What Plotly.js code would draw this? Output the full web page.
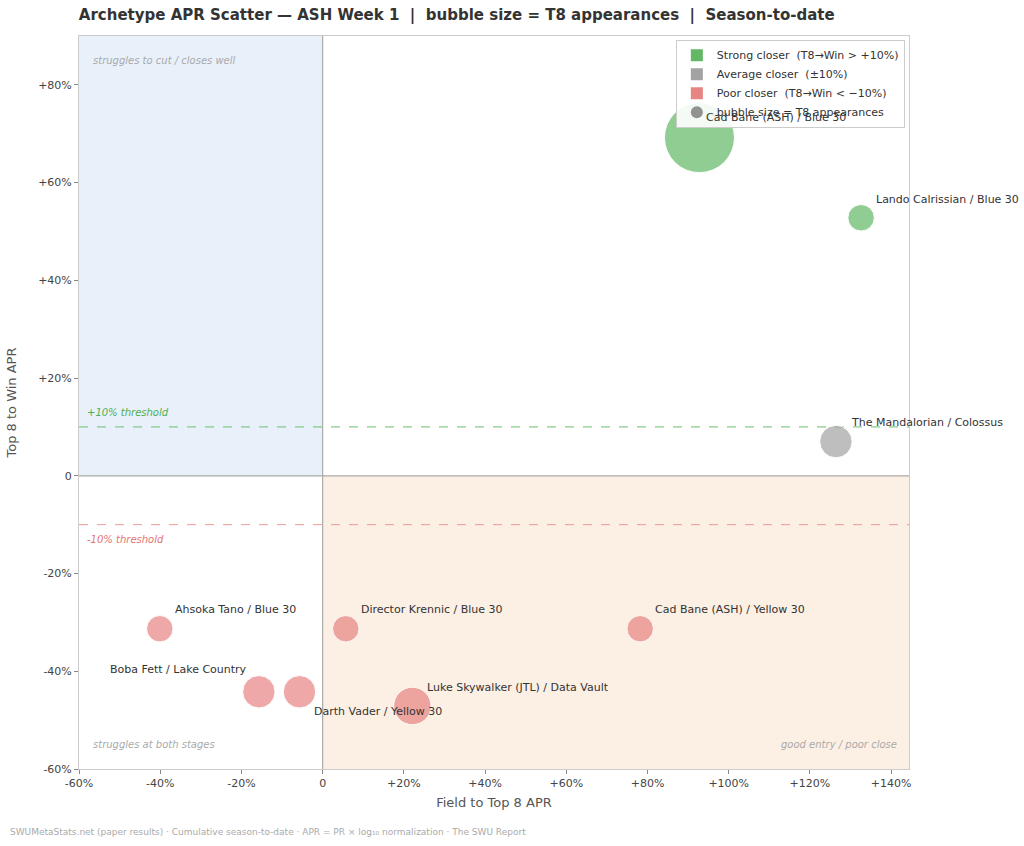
<!DOCTYPE html>
<html><head><meta charset="utf-8">
<script src="https://cdn.plot.ly/plotly-3.0.1.min.js"></script>
<style>body{margin:0;background:#fff}#chart{width:1024px;height:846px}</style>
</head><body><div id="chart"></div>
<script>
// Archetype APR scatter, ASH week 1
const names = ["Cad Bane (ASH) / Blue 30", "Lando Calrissian / Blue 30", "The Mandalorian / Colossus",
  "Ahsoka Tano / Blue 30", "Director Krennic / Blue 30", "Cad Bane (ASH) / Yellow 30",
  "Boba Fett / Lake Country", "Darth Vader / Yellow 30", "Luke Skywalker (JTL) / Data Vault"];
const fieldApr = [92.8, 132.6, 126.4, -40.1, 5.7, 78.2, -15.7, -5.7, 22.1];
const winApr   = [69.2, 52.8, 7.0, -31.3, -31.3, -31.3, -44.2, -44.2, -47.1];
const t8Apps   = [14, 2, 3, 2, 2, 2, 3, 3, 4];
// label offsets in px (ax, ay) and anchor
const labelOff = [[5,-20,"left"],[13,-18,"left"],[13,-19,"left"],[13,-19,"left"],[13,-19,"left"],[13,-19,"left"],[10,-22,"right"],[13,20,"left"],[13,-18,"left"]];

const GREEN = "#62b865", GREY = "#a3a3a3", RED = "#e88482";
const colorFor = v => v > 10 ? GREEN : (v < -10 ? RED : GREY);
const FONT = "DejaVu Sans, sans-serif";

const traces = [{
  type: "scatter", mode: "markers", x: fieldApr, y: winApr, text: names,
  marker: { size: t8Apps, sizemode: "area", sizeref: 2 * 14 / (70 * 70), color: winApr.map(colorFor),
            line: { color: "#fff", width: 1 } },
  showlegend: false, hoverinfo: "text"
}];
const legendItems = [
  ["Strong closer  (T8→Win > +10%)", GREEN, "square"],
  ["Average closer  (±10%)", GREY, "square"],
  ["Poor closer  (T8→Win < −10%)", RED, "square"],
  ["bubble size = T8 appearances", "#929292", "circle"]];
legendItems.forEach(([n, c, s]) => traces.push({
  type: "scatter", mode: "markers", x: [null], y: [null], name: n,
  marker: { color: c, symbol: s, size: 12 }
}));

const annotations = names.map((n, i) => ({
  x: fieldApr[i], y: winApr[i], text: n, showarrow: true, arrowcolor: "rgba(0,0,0,0)",
  ax: labelOff[i][0] * (labelOff[i][2] === "right" ? -1 : 1), ay: labelOff[i][1],
  xanchor: labelOff[i][2], font: { size: 11, color: "#333" }
}));
const cornerNote = (x, y, t, xa, c) => ({ x, y, text: t, showarrow: false, xanchor: xa,
  font: { size: 10, color: c || "#aaa", style: "italic" } });
annotations.push(
  cornerNote(-57, 85, "struggles to cut / closes well", "left"),
  cornerNote(-57, -55, "struggles at both stages", "left"),
  cornerNote(142, -55, "good entry / poor close", "right"),
  cornerNote(-58.5, 13, "+10% threshold", "left", "#4caf50"),
  cornerNote(-58.5, -13, "-10% threshold", "left", "#e57373"),
  { xref: "paper", yref: "paper", x: -0.085, y: -0.095, xanchor: "left", showarrow: false,
    text: "SWUMetaStats.net (paper results) · Cumulative season-to-date · APR = PR × log₁₀ normalization · The SWU Report",
    font: { size: 9, color: "#aaa" } }
);

const shapes = [
  { type: "rect", x0: -60, x1: 0, y0: 0, y1: 90, fillcolor: "#e8f0fa", line: { width: 0 }, layer: "below" },
  { type: "rect", x0: 0, x1: 144.4, y0: -60, y1: 0, fillcolor: "#fcefe3", line: { width: 0 }, layer: "below" },
  { type: "line", x0: 0, x1: 0, y0: -60, y1: 90, line: { color: "#aaa", width: 1.2 }, layer: "below" },
  { type: "line", x0: -60, x1: 144.4, y0: 0, y1: 0, line: { color: "#aaa", width: 1.2 }, layer: "below" },
  { type: "line", x0: -60, x1: 144.4, y0: 10, y1: 10, line: { color: "#6cbf6c", width: 1, dash: "dash" }, layer: "below" },
  { type: "line", x0: -60, x1: 144.4, y0: -10, y1: -10, line: { color: "#ee9a98", width: 1, dash: "dash" }, layer: "below" }
];

const fmt = v => v > 0 ? "+" + v + "%" : (v === 0 ? "0" : v + "%");
const xt = [-60,-40,-20,0,20,40,60,80,100,120,140], yt = [-60,-40,-20,0,20,40,60,80];

Plotly.newPlot("chart", traces, {
  width: 1024, height: 846, paper_bgcolor: "#fff", plot_bgcolor: "#fff",
  font: { family: FONT, color: "#444", size: 11 },
  margin: { l: 79, r: 115, t: 36, b: 77 },
  title: { text: "<b>Archetype APR Scatter — ASH Week 1  |  bubble size = T8 appearances  |  Season-to-date</b>",
           x: 0.077, xanchor: "left", y: 0.982, yanchor: "middle", font: { size: 15, color: "#333" } },
  xaxis: { range: [-60, 144.4], tickvals: xt, ticktext: xt.map(fmt), showgrid: false, zeroline: false,
           showline: true, mirror: true, linecolor: "#ccc", ticks: "outside", ticklen: 4, tickcolor: "#888",
           title: { text: "Field to Top 8 APR", standoff: 8, font: { size: 13, color: "#555" } } },
  yaxis: { range: [-60, 90], tickvals: yt, ticktext: yt.map(fmt), showgrid: false, zeroline: false,
           showline: true, mirror: true, linecolor: "#ccc", ticks: "outside", ticklen: 4, tickcolor: "#888",
           title: { text: "Top 8 to Win APR", standoff: 18, font: { size: 13, color: "#555" } } },
  legend: { x: 0.995, y: 0.995, xanchor: "right", yanchor: "top", bgcolor: "rgba(255,255,255,0.9)",
            bordercolor: "#ccc", borderwidth: 1, font: { size: 11, color: "#333" }, tracegroupgap: 0 },
  shapes, annotations
}, { displayModeBar: false });
</script></body></html>
